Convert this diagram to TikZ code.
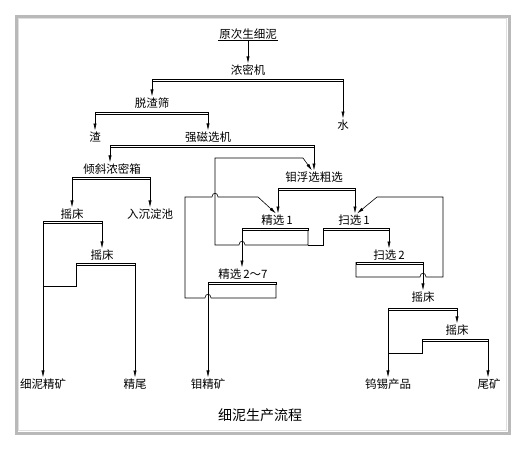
\documentclass[tikz,border=0pt]{standalone}
\usepackage{fontspec}
\setmainfont{Noto Sans CJK SC}
\usetikzlibrary{arrows.meta}

\begin{document}
\begin{tikzpicture}[
    x=1pt, y=-1pt,
    font=\fontsize{11.5}{13}\selectfont,
    lbl/.style={inner sep=1pt},
    bar/.style={draw, line width=0.6pt, fill=white},
    line/.style={draw, line width=0.6pt},
    arr/.style={line, -{Latex[length=7pt, width=3.2pt]}}
]
\useasboundingbox (0,0) rectangle (528,450);
\draw[gray!55, line width=3pt] (16,16) rectangle (509,433);
\draw[gray!25, line width=0.8pt] (18.5,18.5) rectangle (506.5,430.5);

\node[lbl] (feed) at (248,34) {原次生细泥};
\node[lbl] (thick) at (248,70) {浓密机};
\node[lbl] (screen) at (152,103) {脱渣筛};
\node[lbl] (water) at (343,125) {水};
\node[lbl] (slag) at (95,137) {渣};
\node[lbl] (mag) at (208,137) {强磁选机};
\node[lbl] (incline) at (112,169) {倾斜浓密箱};
\node[lbl] (rough) at (314,177) {钼浮选粗选};
\node[lbl] (tableA) at (72,214) {摇床};
\node[lbl] (pond) at (150,214) {入沉淀池};
\node[lbl] (tableB) at (102,255) {摇床};
\node[lbl] (cleanA) at (277,220) {精选\,1};
\node[lbl] (scavA) at (354,220) {扫选\,1};
\node[lbl] (scavB) at (389,255) {扫选\,2};
\node[lbl] (cleanB) at (243,274) {精选\,2～7};
\node[lbl] (tableC) at (423,297) {摇床};
\node[lbl] (tableD) at (457,330) {摇床};
\node[lbl] (concA) at (43,384) {细泥精矿};
\node[lbl] (tailA) at (135,384) {精尾};
\node[lbl] (moly) at (208,384) {钼精矿};
\node[lbl] (wsn) at (388,384) {钨锡产品};
\node[lbl] (tailB) at (489,384) {尾矿};
\node[font=\fontsize{14}{16}\selectfont] (title) at (260,415) {细泥生产流程};

\coordinate (thickL) at (152,79);   \coordinate (thickR) at (343,79);
\coordinate (screenL) at (95,112);  \coordinate (screenR) at (208,112);
\coordinate (magL) at (110,145);    \coordinate (magR) at (314,145);
\coordinate (inclineL) at (72,177); \coordinate (inclineR) at (150,177);
\coordinate (tableAL) at (43,221);  \coordinate (tableAR) at (102,221);
\coordinate (tableBL) at (76,263);  \coordinate (tableBR) at (135,263);
\coordinate (roughL) at (278,188);  \coordinate (roughR) at (355,188);
\coordinate (cleanAL) at (242,228); \coordinate (cleanAR) at (308,228);
\coordinate (scavAL) at (323,228);  \coordinate (scavAR) at (389,228);
\coordinate (scavBL) at (356,262);  \coordinate (scavBR) at (423,262);
\coordinate (cleanBL) at (208,282); \coordinate (cleanBR) at (276,282);
\coordinate (tableCL) at (388,308); \coordinate (tableCR) at (457,308);
\coordinate (tableDL) at (422,339); \coordinate (tableDR) at (488,339);

\draw[line] (feed.south west) -- (feed.south east);
\draw[arr] (feed.south) -- (thick.north);
\draw[arr] (thickL) -- (thickL |- screen.north);
\draw[arr] (thickR) -- (water.north);
\draw[arr] (screenL) -- (slag.north);
\draw[arr] (screenR) -- (mag.north);
\draw[arr] (magL) -- (magL |- incline.north);
\draw[arr] (magR) -- (rough.north);
\draw[arr] (inclineL) -- (tableA.north);
\draw[arr] (inclineR) -- (pond.north);
\draw[arr] (tableAL) -- (concA.north);
\draw[arr] (tableAR) -- (tableB.north);
\draw[line] (tableBL) -- ++(0,23) coordinate (tableBJ) -- (tableBJ -| tableAL);
\draw[arr] (tableBR) -- (tailA.north);
\draw[arr] (roughL) -- (roughL |- cleanA.north);
\draw[arr] (roughR) -- (roughR |- scavA.north);
\draw[arr] (cleanAL) -- (cleanAL |- cleanB.north);
\draw[arr] (scavAR) -- (scavAR |- scavB.north);
\draw[arr] (scavBR) -- (scavBR |- tableC.north);
\draw[arr] (cleanBL) -- (moly.north);
\draw[arr] (tableCL) -- (tableCL |- wsn.north);
\draw[arr] (tableCR) -- (tableCR |- tableD.north);
\draw[line] (tableDL) -- ++(0,14) coordinate (tableDJ) -- (tableDJ -| tableCL);
\draw[arr] (tableDR) -- (tableDR |- tailB.north);

\draw[line] (scavAL) -- (323,245) -- (308,245);
\draw[arr] (cleanAR) -- (308,245) -- (245,245) .. controls (245,240) and (239,240) .. (239,245)
    -- (215,245) -- (215,158) -- (303,158) -- ([xshift=-2pt]rough.north);
\draw[arr] (cleanBR) -- (276,298) -- (211,298) .. controls (211,293) and (205,293) .. (205,298)
    -- (185,298) -- (185,197) -- (212,197) .. controls (212,192) and (218,192) .. (218,197)
    -- (258,197) -- ([xshift=-1pt]cleanA.north);
\draw[arr] (scavBL) -- (356,277) -- (420,277) .. controls (420,272) and (426,272) .. (426,277)
    -- (443,277) -- (443,197) -- (377,197) -- ([xshift=3pt]scavA.north);

\draw[bar] (thickL) rectangle ([yshift=-2pt]thickR);
\draw[bar] (screenL) rectangle ([yshift=-2pt]screenR);
\draw[bar] (magL) rectangle ([yshift=-2pt]magR);
\draw[bar] (inclineL) rectangle ([yshift=-2pt]inclineR);
\draw[bar] (tableAL) rectangle ([yshift=-2pt]tableAR);
\draw[bar] (tableBL) rectangle ([yshift=-2pt]tableBR);
\draw[bar] (roughL) rectangle ([yshift=-2pt]roughR);
\draw[bar] (cleanAL) rectangle ([yshift=-2pt]cleanAR);
\draw[bar] (scavAL) rectangle ([yshift=-2pt]scavAR);
\draw[bar] (scavBL) rectangle ([yshift=-2pt]scavBR);
\draw[bar] (cleanBL) rectangle ([yshift=-2pt]cleanBR);
\draw[bar] (tableCL) rectangle ([yshift=-2pt]tableCR);
\draw[bar] (tableDL) rectangle ([yshift=-2pt]tableDR);
\end{tikzpicture}
\end{document}
